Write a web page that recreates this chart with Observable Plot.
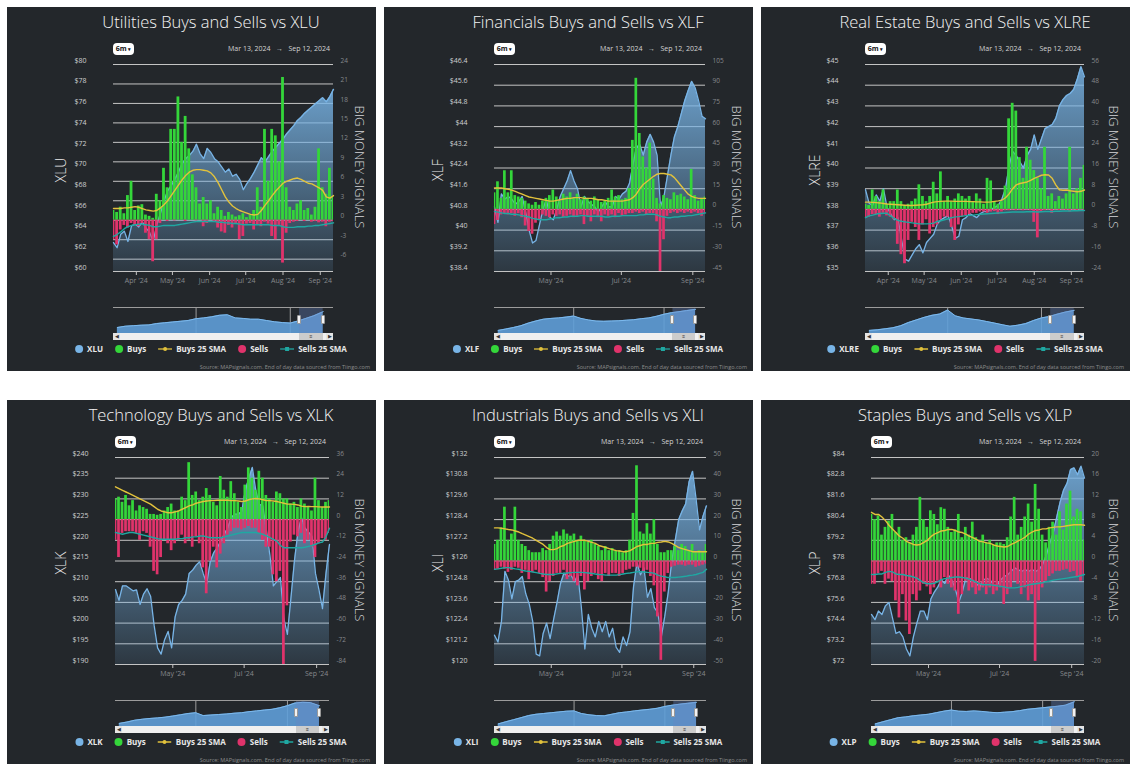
<!DOCTYPE html>
<html><head><meta charset="utf-8">
<script src="https://cdn.jsdelivr.net/npm/d3@7"></script>
<script src="https://cdn.jsdelivr.net/npm/@observablehq/plot@0.6"></script>
<style>
body{margin:0;background:#fff;font-family:"Open Sans",sans-serif;width:1134px;height:771px;overflow:hidden}
.card{position:absolute;width:369px;height:364px;background:#23272b;overflow:hidden}
.card > svg{position:absolute;left:0;top:0}
.title{position:absolute;left:0;width:408px;top:5px;text-align:center;color:#f4f4f4;font-size:16.5px;font-weight:300;line-height:20px;white-space:nowrap}
.btn{position:absolute;top:36px;height:12px;width:21px;background:#fff;border-radius:4px;font-size:7px;font-weight:700;color:#111;line-height:12px;text-align:center}
.range{position:absolute;top:37px;font-size:7px;color:#d4d4d4;white-space:nowrap;line-height:10px}
.atl{position:absolute;white-space:nowrap;transform:translate(-50%,-50%) rotate(-90deg);color:#ececec;font-size:14px;font-weight:300;line-height:16px}
.atr{position:absolute;white-space:nowrap;transform:translate(-50%,-50%) rotate(90deg);color:#d4d5d7;font-size:13px;font-weight:300;line-height:16px}
.track{position:absolute;top:326px;height:7px;background:#f0f0f0}
.thumb{position:absolute;top:326px;height:7px;background:#cccccc;font-size:5px;line-height:7px;text-align:center;color:#333}
.sbtn{position:absolute;top:326px;height:7px;width:7px;background:#e4e4e4;font-size:5px;line-height:7px;text-align:center;color:#333}
.handle{position:absolute;top:308px;height:9px;width:4px;background:#f2f2f2;border:1px solid #999;border-radius:1px;box-sizing:border-box}
.legend{position:absolute;left:204px;top:336px;transform:translateX(-50%);display:flex;gap:12px;white-space:nowrap;font-size:8px;font-weight:700;color:#e8e8e8;align-items:center;line-height:12px}
.li{display:flex;align-items:center;gap:4px}
.dot{display:inline-block;width:8px;height:8px;border-radius:50%}
.src{position:absolute;right:6px;top:356px;font-size:5.5px;color:#8c8c8c;white-space:nowrap}
</style></head><body><div id="root"></div>
<script>
// ---------- data ----------
const dates = ["03-13","03-16","03-19","03-22","03-25","03-28","03-31","04-03","04-06","04-09","04-12","04-15","04-18","04-21","04-24","04-27","04-30","05-03","05-06","05-09","05-12","05-15","05-18","05-21","05-24","05-27","05-30","06-02","06-05","06-08","06-11","06-14","06-17","06-20","06-23","06-26","06-29","07-02","07-05","07-08","07-11","07-14","07-17","07-20","07-23","07-26","07-29","08-01","08-04","08-07","08-10","08-13","08-16","08-19","08-22","08-25","08-28","08-31","09-03","09-06","09-09","09-12"];
const monthTicksAll = ["2024-04-01","2024-05-01","2024-06-01","2024-07-01","2024-08-01","2024-09-01"];
const monthTicksAlt = ["2024-05-01","2024-07-01","2024-09-01"];
const navDates = ["2020-05-01","2020-07-01","2020-09-01","2020-11-01","2021-01-01","2021-03-01","2021-05-01","2021-07-01","2021-09-01","2021-11-01","2022-01-01","2022-03-01","2022-05-01","2022-07-01","2022-09-01","2022-11-01","2023-01-01","2023-03-01","2023-05-01","2023-07-01","2023-09-01","2023-11-01","2024-01-01","2024-03-01","2024-05-01","2024-07-01","2024-09-12"];
const navGridDates = ["2022-01-01","2024-01-01"];
const navDomain = ["2020-04-01","2024-12-01"];

const titles = ["Utilities Buys and Sells vs XLU","Financials Buys and Sells vs XLF","Real Estate Buys and Sells vs XLRE","Technology Buys and Sells vs XLK","Industrials Buys and Sells vs XLI","Staples Buys and Sells vs XLP"];
const tickers = ["XLU","XLF","XLRE","XLK","XLI","XLP"];
const legendNames = ["Buys","Buys 25 SMA","Sells","Sells 25 SMA"];

const xluPriceTicks = [60,62,64,66,68,70,72,74,76,78,80];
const xluSignalTicks = [-6,-3,0,3,6,9,12,15,18,21,24];
const xlfPriceTicks = [38.4,39.2,40,40.8,41.6,42.4,43.2,44,44.8,45.6,46.4];
const xlfSignalTicks = [-45,-30,-15,0,15,30,45,60,75,90,105];
const xlrePriceTicks = [35,36,37,38,39,40,41,42,43,44,45];
const xlreSignalTicks = [-24,-16,-8,0,8,16,24,32,40,48,56];
const xlkPriceTicks = [190,195,200,205,210,215,220,225,230,235,240];
const xlkSignalTicks = [-84,-72,-60,-48,-36,-24,-12,0,12,24,36];
const xliPriceTicks = [120,121.2,122.4,123.6,124.8,126,127.2,128.4,129.6,130.8,132];
const xliSignalTicks = [-50,-40,-30,-20,-10,0,10,20,30,40,50];
const xlpPriceTicks = [72,73.2,74.4,75.6,76.8,78,79.2,80.4,81.6,82.8,84];
const xlpSignalTicks = [-20,-16,-12,-8,-4,0,4,8,12,16,20];

const xluPrice = [62.8,62.3,63.6,63.9,62.9,64.4,64.6,64.3,64.8,64.2,63.8,62.9,64.5,65.6,66.8,67.8,68.3,68.9,69.6,70.4,70.9,71.2,71.6,72.3,71.4,70.9,71.9,71.5,70.9,70.6,70.1,69.6,69.9,69.2,69.4,68.9,67.9,68.5,69.0,69.6,70.3,71.0,70.6,71.1,71.6,72.0,72.4,72.8,73.3,73.7,74.1,74.6,74.9,75.3,75.6,75.9,76.2,76.5,76.8,76.4,76.9,77.6];
const xluBuys = [1.5,1.2,2.0,1.0,3.8,6.0,1.5,2.2,2.4,0.8,0.6,0.3,4.0,3.0,8.0,5.0,14.0,14.0,19.0,12.0,16.0,11.0,7.0,5.0,2.5,3.5,2.5,3.0,1.0,2.0,1.5,0.6,1.2,0.8,0.5,0.7,1.0,0.4,0.8,1.5,5.0,2.0,14.0,6.0,14.0,13.0,9.0,22.0,5.0,2.0,1.5,2.5,3.0,1.5,1.8,0.8,2.0,11.0,5.0,4.0,8.0,3.5];
const xluSells = [-3.0,-3.8,-1.5,-0.8,-1.2,-0.5,-0.8,-1.0,-0.5,-2.0,-3.0,-6.4,-3.0,-0.5,0,-0.2,0,-0.1,0,0,-0.2,0,0,-0.1,0,-1.0,-0.5,0,-0.3,-1.2,-1.8,-2.0,-0.8,-1.2,-0.5,-3.0,-2.5,-0.6,-0.5,-1.5,-0.8,-1.0,-0.3,-0.6,-2.5,-3.0,-0.8,-6.6,-2.0,-0.5,-0.3,-0.2,0,-0.2,0,-0.3,-0.2,-0.4,-0.3,-1.0,-0.3,-0.2];
const xluBuySma = [1.8,1.8,1.8,1.9,1.9,2.0,2.1,2.0,1.8,1.6,1.5,1.4,1.5,1.9,2.4,3.0,3.8,4.6,5.4,6.2,6.9,7.4,7.7,7.8,7.8,7.7,7.6,7.3,6.7,5.8,4.7,3.6,2.8,2.2,1.8,1.5,1.3,1.1,0.9,0.8,0.9,1.5,2.3,3.0,3.8,4.5,5.1,5.7,6.0,6.2,6.4,6.5,6.3,6.0,5.7,5.6,5.3,5.0,4.6,3.6,3.4,3.8];
const xluSellSma = [-2.5,-2.2,-1.8,-1.3,-1.0,-0.8,-0.7,-0.6,-0.6,-0.7,-0.8,-1.0,-1.0,-0.9,-0.8,-0.8,-0.8,-0.8,-0.7,-0.6,-0.5,-0.4,-0.3,-0.2,-0.2,-0.2,-0.2,-0.2,-0.2,-0.3,-0.3,-0.4,-0.4,-0.5,-0.5,-0.6,-0.7,-0.7,-0.7,-0.7,-0.7,-0.7,-0.7,-0.7,-0.8,-0.8,-0.8,-1.0,-1.1,-1.1,-1.1,-1.0,-1.0,-1.0,-0.9,-0.9,-0.8,-0.8,-0.7,-0.6,-0.5,-0.4];
const xluNav = [23,28,30,32,33,38,41,44,47,50,57,60,64,70,72,60,58,55,55,50,45,42,40,48,58,68,84];

const xlfPrice = [40.9,40.3,41.4,41.2,41.3,41.2,41.0,41.1,41.3,40.7,40.0,39.5,39.6,40.2,40.8,41.2,40.5,40.4,40.8,41.3,41.6,41.9,42.3,41.9,41.6,40.9,41.3,41.1,41.0,40.9,40.7,40.9,41.1,40.9,40.9,41.3,41.2,41.4,41.5,41.8,42.5,43.2,43.3,42.9,43.4,43.7,43.4,42.9,40.9,41.3,42.1,42.9,43.6,44.0,44.5,45.0,45.4,45.75,45.5,45.0,44.4,44.3];
const xlfBuys = [12,20,8,28,12,28,10,9,8,6,4,3,5,3,6,8,10,14,9,6,11,9,12,8,11,7,9,8,6,9,7,5,6,8,14,9,10,7,8,15,50,95,55,38,30,48,22,8,4,10,8,7,12,10,11,9,7,29,10,6,8,9];
const xlfSells = [-11,-8,-4,-3,-4,-3,-5,-3,-6,-12,-16,-18,-10,-8,-4,-5,-6,-4,-5,-4,-6,-5,-4,-6,-5,-4,-11,-5,-9,-4,-6,-9,-4,-5,-4,-6,-3,-5,-4,-3,-3,-2,-3,-2,-4,-3,-3,-9,-45,-22,-5,-3,-2,-3,-2,-3,-2,-3,-2,-3,-5,-3];
const xlfBuySma = [15.5,15.5,15.5,15,14.5,14,13,12,11,10,9,8.5,8,7.5,7,6.5,6,6,6.5,7,7.5,8,8,8.5,8.5,8.5,8,8,8,7.5,7,7,6.5,6,6,6,6,6,6.5,7,8.5,11,15,18,20,22,24,25.5,26,26,25.5,25,23,20,17,14,11,9.5,8.5,8,8,8];
const xlfSellSma = [-1.5,-2,-2.5,-3,-3,-3.5,-3.5,-4,-4.5,-5,-5.5,-6.5,-7,-7.5,-7.5,-7.5,-7,-6.5,-6,-6,-5.5,-5.5,-5,-5,-5,-4.5,-4.5,-5,-5,-5,-5,-5,-5.5,-5.5,-5,-5,-5,-4.5,-4.5,-4.5,-4.5,-4.5,-4,-4,-3.5,-3.5,-3.5,-4,-5,-5.5,-6,-6,-5.5,-5.5,-5,-5,-4.5,-4.5,-4,-3.5,-3,-2.5];
const xlfNav = [12,17,23,30,40,48,55,58,60,63,67,58,52,48,47,48,49,51,53,57,60,66,74,80,84,88,93];

const xlrePrice = [38.95,38.3,38.2,38.7,38.4,39.0,38.1,37.8,37.5,37.6,36.6,35.6,35.5,35.8,36.1,36.3,35.9,36.4,36.6,36.8,37.3,37.5,37.6,37.7,37.2,36.6,36.7,37.5,37.6,37.8,37.7,37.6,37.8,37.9,37.9,38.0,38.1,38.2,38.5,39.0,40.1,40.8,40.6,40.3,40.0,40.6,40.9,41.6,40.9,41.4,41.9,42.0,42.1,42.4,43.0,43.3,43.5,43.6,43.8,44.3,44.9,44.4];
const xlreBuys = [2,1.5,7.5,5,3,7.5,2,3,3,7.5,3,1.5,2,3,4,9.5,5,3,5,10.5,6,14.5,3,5,3,4,6,5,4,5,3,6,4,2,12,11,3,2,3,9,35,41,38,20,12,24,19,15,12,8,24,5,6,3,5,4,6,24,6,8,12,17];
const xlreSells = [-3.5,-3,-2,-2,-3,-1.5,-2.5,-3,-4,-13.5,-17.5,-21,-12,-5,-7,-12,-6,-4,-9.5,-7,-6,-4,-3,-3,-7,-12,-6,-3,-2.5,-2,-1.5,-1.5,-1,-1,-1.5,-1,-0.8,-2,-1,-0.5,-0.5,-0.3,-0.5,-0.3,-0.5,-0.3,-0.5,-5,-11,-1,-0.5,-0.3,-1.5,-0.3,-0.5,-0.3,-0.5,-1,-0.3,-0.5,-0.3,-0.5];
const xlreBuySma = [2.8,2.8,2.7,2.6,2.5,2.3,2.1,2.0,1.9,1.8,1.7,1.6,1.5,1.5,1.6,1.7,1.8,2.0,2.4,2.8,3.0,3.1,3.2,3.2,3.2,3.1,3.1,3.1,3.1,3.0,3.0,2.9,2.9,2.8,2.8,2.9,3.1,3.3,3.6,4.5,6.0,8.0,9.5,10.0,10.3,10.6,11.2,12.0,12.6,13.2,13.4,13.3,12.0,9.5,7.6,7.4,7.5,7.2,7.0,6.8,7.0,7.5];
const xlreSellSma = [-3.2,-2.5,-2.2,-1.8,-1.6,-1.5,-1.5,-2.5,-3.5,-4.2,-4.6,-4.8,-5.0,-5.2,-5.4,-5.6,-5.6,-5.6,-5.5,-5.3,-4.6,-4.4,-4.0,-3.6,-3.2,-2.9,-2.8,-2.6,-2.4,-2.3,-2.2,-2.0,-1.9,-1.8,-1.7,-1.6,-1.5,-1.4,-1.3,-1.2,-1.1,-1.0,-1.0,-1.0,-1.0,-0.9,-0.9,-0.9,-1.0,-0.9,-0.8,-0.8,-0.8,-0.7,-0.7,-0.6,-0.6,-0.6,-0.5,-0.5,-0.4,-0.4];
const xlreNav = [12,14,18,22,30,42,52,62,70,75,90,68,60,56,52,46,40,34,28,32,38,50,60,65,74,82,89];

const xlkPrice = [208.1,205.5,209.0,209.0,208.4,207.8,208.0,204.5,207.0,208.3,206.5,199.5,194.0,192.5,196.0,198.0,194.0,201.5,204.5,205.5,207.0,212.0,212.8,214.0,214.8,212.0,209.5,214.8,217.0,218.2,219.8,221.5,223.0,225.5,226.3,226.3,227.0,232.0,235.0,237.6,232.0,228.7,228.3,222.5,216.5,209.0,210.0,211.0,201.0,197.3,206.0,215.0,222.0,225.5,223.0,222.0,221.0,212.0,208.0,203.5,212.0,219.0];
const xlkBuys = [12,13,10,14,8,11,5,8,7,6,3,3,2.5,3,5,7,9,5,5,13,11,33,14,16,11,13,18,14,10,8,25,17,13,22,15,10,7,20,30,24,17,28,24,14,12,10,16,15,12,12,9,10,7,12,9,7,5,24,11,7,10,11];
const xlkSells = [-12,-22,-8,-7,-7,-7,-8,-12,-7,-8,-16,-30,-32,-22,-12,-14,-18,-14,-12,-9,-14,-12,-16,-10,-14,-28,-43,-24,-16,-28,-20,-14,-9,-7,-5,-5,-6,-5,-4,-5,-5,-8,-12,-16,-16,-32,-36,-30,-84,-50,-13,-9,-10,-8,-14,-12,-16,-22,-14,-11,-12,-8];
const xlkBuySma = [19,18,17,16,15,14,13,12,11,10,9,7.5,6,5,4.5,4,4,4.5,5,6,7,8,8.5,9.5,10,10.5,10.8,11,11,11.2,11.2,11.2,11.2,11,11,10.8,10.5,10.8,11.5,12,12.2,12,11.5,11,11,10.8,10.5,10,9.5,9,9,8.8,8.5,7.8,7.5,7.6,7.5,7.5,7.4,7.3,7.3,7.3];
const xlkSellSma = [-7.5,-8,-8.5,-8,-7.5,-7.5,-8,-8.5,-9,-9.5,-10,-10.5,-11,-11.4,-11.4,-11.4,-11.4,-11.4,-11,-11,-10.5,-10.5,-10,-10,-9.5,-9.5,-10,-10.5,-10.5,-10.5,-10.5,-10,-9.5,-9,-8.5,-8,-7.5,-7.5,-7.5,-7.5,-7.5,-8,-8.5,-9.5,-10.5,-11.5,-12.5,-15,-16.3,-16.3,-16.3,-16.3,-16.3,-16.3,-16,-15.5,-15,-14.3,-13.5,-13,-10,-5];
const xlkNav = [12,17,24,28,31,33,36,40,45,50,53,42,44,46,48,51,53,57,60,63,66,72,80,90,93,92,80];

const xliPrice = [121.7,121.3,122.5,125.4,124.9,123.8,124.8,124.9,125.1,124.1,123.5,122.5,120.6,120.5,121.8,122.4,121.5,122.6,123.6,124.7,125.3,125.1,125.2,124.8,125.2,123.3,120.9,122.9,122.1,121.6,122.5,121.9,122.5,121.6,122.1,121.0,120.7,121.6,121.1,121.9,124.5,125.9,125.2,125.6,123.9,124.4,123.3,123.0,121.6,122.8,124.2,126.0,127.2,128.4,128.9,129.3,130.6,131.2,129.6,127.8,128.6,129.2];
const xliBuys = [8,10,16,26,10,13,26,10,8,7,5,4,4,4,6,5,8,12,14,12,15,13,12,13,10,12,10,9,10,8,7,5,7,5,6,5,5,4,5,10,23,46,14,13,18,13,20,8,4,4,5,5,7,5,8,7,5,8,4,5,4,8];
const xliSells = [-4.5,-4,-3,-4,-5.5,-4.5,-3,-3.5,-6,-4.5,-9,-5.5,-4.5,-6,-8,-15,-10,-7.5,-6,-6,-4.5,-9,-7.5,-10,-12,-7.5,-14,-10,-7.5,-6,-9,-10,-6,-7.5,-6,-6,-7.5,-6,-4.5,-4,-3,-3,-3.5,-5,-4.5,-7.5,-12,-27,-48,-15,-6,-3,-2.5,-2,-2,-2.5,-2,-2,-3,-2.5,-2,-1.5];
const xliBuySma = [16,16,15.8,15.5,15.2,15,14.5,14,13.2,12.5,11.8,11,10,9,8,6.5,5.5,5.5,6,7,7.5,8.5,9,9.5,10,10,10,9.5,9,8.5,7.5,7,6.5,6,5.5,5,4.8,4.5,4.5,5,6,7,7.5,8,8,8.5,8.5,9,9.2,9.5,9.2,8.5,7.5,6.5,6,5.5,5,4.5,4.5,4.5,4.5,4.5];
const xliSellSma = [-4,-3.8,-3.5,-3.2,-3.2,-3.5,-3.8,-4,-4.5,-4.8,-5,-5.3,-5.6,-6,-6.3,-6.5,-6.5,-6.5,-6.2,-6,-6,-5.8,-5.6,-5.5,-5.5,-5.5,-5.6,-5.8,-6,-6.3,-6.5,-6.6,-6.8,-6.8,-6.8,-6.8,-6.6,-6.3,-6,-5.8,-5.5,-5.2,-5.2,-5.3,-5.5,-5.6,-6,-6.8,-7.3,-7.6,-8,-8,-8,-7.8,-7.6,-7.4,-7,-6.8,-6.5,-6,-5.5,-4];
const xliNav = [10,18,26,34,42,47,50,53,56,59,60,50,45,42,41,47,53,56,60,63,66,70,77,82,86,89,93];

const xlpPrice = [74.9,74.6,75.1,74.9,75.4,75.6,74.7,73.8,73.9,73.6,72.9,72.5,73.6,74.4,75.1,75.1,74.6,75.8,76.2,76.5,76.9,76.7,77.2,76.9,76.4,75.6,76.2,77.0,77.0,76.9,76.7,76.5,76.9,77.0,76.9,76.6,76.6,76.9,77.1,77.2,77.4,77.6,77.5,77.4,77.5,77.4,77.5,77.4,77.5,77.8,78.3,79.0,79.6,80.5,81.4,82.1,82.5,83.3,83.4,83.0,83.5,82.8];
const xlpBuys = [9,8,8.7,5,6.5,7.7,9,5.5,6.5,4,4.5,3.5,5,6.5,12.3,8,6.5,9.7,9,7,10.3,10,6.5,5.5,6,9,4.5,6.5,5,7.5,4.5,4,5,3.5,4,3,3.5,3.5,3.2,4.5,8.5,12.3,5,6.5,8.5,11,7.5,14.8,10,5,3.5,6.5,7.5,5,9.5,6,11,13.5,8.5,10,9.5,4];
const xlpSells = [-4.5,-4.5,-2.5,-2,-4.5,-3.5,-4,-7.7,-11,-6.5,-11.6,-14.2,-6.5,-7.7,-5.8,-4.5,-5,-6.5,-5.2,-3.9,-5.2,-3.2,-4.5,-5.2,-5.8,-10.3,-6.5,-3.9,-5.8,-5.2,-6.5,-5.8,-5.2,-6.5,-5.2,-6.5,-5.8,-5.2,-8.4,-6.5,-5.2,-3.9,-4.5,-6.5,-5.2,-7.7,-6.5,-19.4,-7.7,-5.2,-3.9,-3,-2.5,-2,-2,-1.8,-1.6,-2.2,-2,-3,-3.9,-2.6];
const xlpBuySma = [9.4,9.0,9.0,8.5,7.8,6.9,6.2,5.5,4.8,4.4,3.8,3.5,3.2,3.1,3.2,3.6,4.0,4.7,5.2,5.5,5.8,5.9,6.1,6.1,5.9,5.6,5.5,5.2,4.8,4.5,4.2,3.8,3.7,3.5,3.4,3.1,2.9,2.8,2.7,2.8,3.2,3.5,3.9,4.2,4.6,5.2,5.6,5.9,6.0,6.2,6.2,6.4,6.5,6.6,6.6,6.7,6.8,6.9,7.0,7.0,7.0,6.9];
const xlpSellSma = [-2.6,-2.6,-2.5,-2.5,-2.2,-2.0,-2.1,-2.5,-2.6,-2.6,-2.8,-2.9,-3.1,-3.3,-3.8,-4.2,-4.4,-4.4,-4.3,-4.0,-3.6,-3.4,-3.3,-3.2,-3.1,-3.1,-3.2,-3.3,-3.5,-3.8,-4.1,-4.4,-4.6,-4.6,-4.6,-4.7,-4.8,-4.9,-5.0,-5.2,-5.2,-5.2,-5.1,-4.9,-4.8,-4.6,-4.5,-4.4,-4.3,-4.2,-4.0,-3.9,-3.7,-3.6,-3.5,-3.4,-3.3,-3.2,-3.1,-3.0,-2.8,-2.6];
const xlpNav = [10,18,26,34,37,41,44,47,53,59,63,59,58,60,58,55,53,55,57,61,66,69,72,75,78,82,95];

// ---------- layout / style ----------
const W = 369;
const FONT = '"Open Sans", "DejaVu Sans", sans-serif';
const C = {bg:"#23272b", price:"#78b4e6", buys:"#34d63a", sells:"#e0336b", bsma:"#e2c23c", ssma:"#1fa8a2", grid:"#c4c4c4"};
const cardPos = [[7,7],[384,7],[761,7],[7,400],[384,400],[761,400]];
const geo = [{L:106,R:326},{L:110,R:321},{L:104,R:323},{L:108,R:322},{L:110,R:322},{L:110,R:323}];

const panels = [
  {price:xluPrice,buys:xluBuys,sells:xluSells,bs:xluBuySma,ss:xluSellSma,nav:xluNav,pt:xluPriceTicks,st:xluSignalTicks,sLo:-7.9,xt:monthTicksAll},
  {price:xlfPrice,buys:xlfBuys,sells:xlfSells,bs:xlfBuySma,ss:xlfSellSma,nav:xlfNav,pt:xlfPriceTicks,st:xlfSignalTicks,xt:monthTicksAlt},
  {price:xlrePrice,buys:xlreBuys,sells:xlreSells,bs:xlreBuySma,ss:xlreSellSma,nav:xlreNav,pt:xlrePriceTicks,st:xlreSignalTicks,xt:monthTicksAll},
  {price:xlkPrice,buys:xlkBuys,sells:xlkSells,bs:xlkBuySma,ss:xlkSellSma,nav:xlkNav,pt:xlkPriceTicks,st:xlkSignalTicks,xt:monthTicksAlt},
  {price:xliPrice,buys:xliBuys,sells:xliSells,bs:xliBuySma,ss:xliSellSma,nav:xliNav,pt:xliPriceTicks,st:xliSignalTicks,xt:monthTicksAlt},
  {price:xlpPrice,buys:xlpBuys,sells:xlpSells,bs:xlpBuySma,ss:xlpSellSma,nav:xlpNav,pt:xlpPriceTicks,st:xlpSignalTicks,xt:monthTicksAlt}
];

const toDate = s => new Date(s + "T00:00:00Z");
const dateObjs = dates.map(s => toDate("2024-" + s));
const xDomain = [dateObjs[0], dateObjs[dateObjs.length - 1]];
const fmtX = d3.utcFormat("%b '%y");
const root = document.getElementById("root");

function el(parent, cls, html, style) {
  const e = document.createElement("div");
  if (cls) e.className = cls;
  if (html != null) e.innerHTML = html;
  if (style) Object.assign(e.style, style);
  parent.appendChild(e);
  return e;
}

panels.forEach((p, i) => {
  const {L, R} = geo[i];
  const card = el(root, "card", null, {left: cardPos[i][0] + "px", top: cardPos[i][1] + "px"});
  const rows = dateObjs.map((d, k) => ({date: d, price: p.price[k], buys: p.buys[k], sells: p.sells[k], bs: p.bs[k], ss: p.ss[k]}));
  const pLo = p.pt[0], pHi = p.pt[p.pt.length - 1];
  const sLo = p.sLo != null ? p.sLo : p.st[0], sHi = p.st[p.st.length - 1];
  const base = {width: W, height: 290, marginTop: 57, marginBottom: 26, marginLeft: L, marginRight: W - R,
    style: {background: "transparent", fontFamily: FONT, overflow: "visible"}};

  // layer 1: gridlines + right axis (signals scale)
  const g1 = Plot.plot({...base,
    x: {type: "utc", domain: xDomain, axis: null},
    y: {domain: [sLo, sHi]},
    marks: [
      Plot.ruleY(p.st, {stroke: C.grid, strokeWidth: 1}),
      Plot.axisY(p.st, {anchor: "right", tickSize: 0, tickPadding: 7, tickFormat: d => String(d), fill: "#86898d", fontSize: 6.5, dy: -4, label: null})
    ]});
  card.appendChild(g1);

  // layer 2: price area/line + left axis + x axis
  const g2 = Plot.plot({...base,
    x: {type: "utc", domain: xDomain},
    y: {domain: [pLo, pHi]},
    marks: [
      Plot.areaY(rows, {x: "date", y1: pLo, y2: "price", fill: `url(#ag${i})`}),
      Plot.lineY(rows, {x: "date", y: "price", stroke: C.price, strokeWidth: 1.3}),
      Plot.ruleY([pLo], {stroke: "#c4c4c4"}),
      Plot.axisY(p.pt, {anchor: "left", tickSize: 0, tickPadding: 27, tickFormat: d => "$" + d, fill: "#cfd0d2", fontSize: 7, dy: -4, label: null}),
      Plot.axisX(p.xt.map(toDate), {tickSize: 4, tickPadding: 3, tickFormat: fmtX, stroke: "#c4c4c4", fill: "#85888c", fontSize: 7, label: null})
    ]});
  d3.select(g2).insert("defs", ":first-child").html(
    `<linearGradient id="ag${i}" x1="0" y1="0" x2="0" y2="1"><stop offset="0" stop-color="${C.price}" stop-opacity="0.85"/><stop offset="1" stop-color="${C.price}" stop-opacity="0.12"/></linearGradient>`);
  card.appendChild(g2);

  // layer 3: bars + SMA lines (signals scale)
  const half = d => [d3.utcHour.offset(d.date, -28), d3.utcHour.offset(d.date, 28)];
  const g3 = Plot.plot({...base,
    x: {type: "utc", domain: xDomain, axis: null},
    y: {domain: [sLo, sHi], axis: null},
    marks: [
      Plot.rect(rows, {x1: d => half(d)[0], x2: d => half(d)[1], y1: 0, y2: "buys", fill: C.buys, clip: true}),
      Plot.rect(rows, {x1: d => half(d)[0], x2: d => half(d)[1], y1: 0, y2: "sells", fill: C.sells, clip: true}),
      Plot.lineY(rows, {x: "date", y: "bs", stroke: C.bsma, strokeWidth: 1.4}),
      Plot.lineY(rows, {x: "date", y: "ss", stroke: C.ssma, strokeWidth: 1.4})
    ]});
  card.appendChild(g3);

  // navigator
  const navRows = navDates.map((s, k) => ({date: toDate(s), v: p.nav[k]}));
  const nav = Plot.plot({width: W, height: 26, marginTop: 0, marginBottom: 0, marginLeft: L, marginRight: W - R,
    style: {background: "transparent", overflow: "visible"},
    x: {type: "utc", domain: navDomain.map(toDate), axis: null},
    y: {domain: [0, 100], axis: null},
    marks: [
      Plot.ruleX(navGridDates.map(toDate), {stroke: "#9c9c9c"}),
      Plot.areaY(navRows, {x: "date", y: "v", fill: "#5f9fd8", fillOpacity: 0.9}),
      Plot.lineY(navRows, {x: "date", y: "v", stroke: "#7dbaee", strokeWidth: 1}),
      Plot.rect([{a: xDomain[0], b: xDomain[1]}], {x1: "a", x2: "b", fill: "#6685c2", fillOpacity: 0.35}),
      Plot.ruleY([100], {stroke: "#9c9c9c"})
    ]});
  nav.style.top = "300px";
  card.appendChild(nav);
  const nx = nav.scale("x");
  const s0 = nx.apply(xDomain[0]), s1 = nx.apply(xDomain[1]);

  // scrollbar
  el(card, "track", null, {left: L + "px", width: (R - L) + "px"});
  el(card, "thumb", "&#8801;", {left: s0 + "px", width: (s1 - s0) + "px"});
  el(card, "sbtn", "&#9664;", {left: L + "px"});
  el(card, "sbtn", "&#9654;", {left: (R - 7) + "px"});
  el(card, "handle", null, {left: (s0 - 2) + "px"});
  el(card, "handle", null, {left: (s1 - 2) + "px"});

  // texts
  el(card, "title", titles[i]);
  el(card, "btn", "6m <span style='font-size:5px'>&#9662;</span>", {left: L + "px"});
  el(card, "range", "Mar 13, 2024 &nbsp;&nbsp;&#8594;&nbsp;&nbsp; Sep 12, 2024", {right: (W - R + 3) + "px"});
  el(card, "atl", tickers[i], {left: "54px", top: "163px"});
  el(card, "atr", "BIG MONEY SIGNALS", {left: "353px", top: "160px"});

  const lineSym = (c, sq) => `<svg width="14" height="6"><line x1="0" y1="3" x2="14" y2="3" stroke="${c}" stroke-width="1.3"/>${sq ? `<rect x="5" y="1" width="4" height="4" fill="${c}"/>` : `<circle cx="7" cy="3" r="2" fill="${c}"/>`}</svg>`;
  el(card, "legend",
    `<span class="li"><i class="dot" style="background:${C.price}"></i>${tickers[i]}</span>` +
    `<span class="li"><i class="dot" style="background:${C.buys}"></i>${legendNames[0]}</span>` +
    `<span class="li">${lineSym(C.bsma, false)}${legendNames[1]}</span>` +
    `<span class="li"><i class="dot" style="background:${C.sells}"></i>${legendNames[2]}</span>` +
    `<span class="li">${lineSym(C.ssma, true)}${legendNames[3]}</span>`);
  el(card, "src", "Source: MAPsignals.com. End of day data sourced from Tiingo.com");
});
</script></body></html>
